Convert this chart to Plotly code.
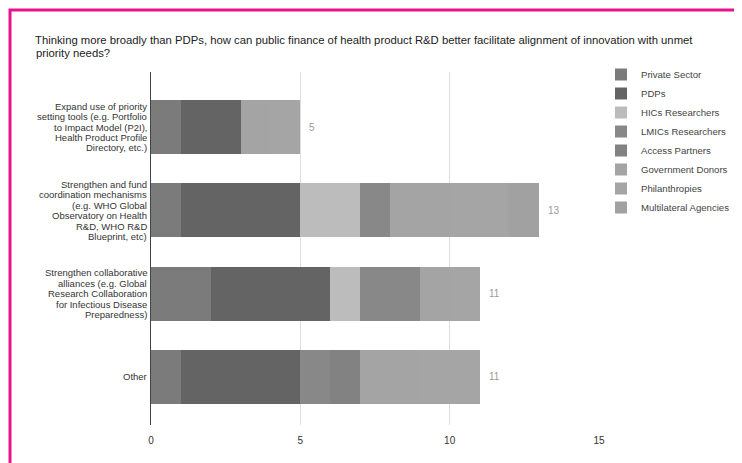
import plotly.graph_objects as go

categories = [
    "Expand use of priority<br>setting tools (e.g. Portfolio<br>to Impact Model (P2I),<br>Health Product Profile<br>Directory, etc.)",
    "Strengthen and fund<br>coordination mechanisms<br>(e.g. WHO Global<br>Observatory on Health<br>R&D, WHO R&D<br>Blueprint, etc)",
    "Strengthen collaborative<br>alliances (e.g. Global<br>Research Collaboration<br>for Infectious Disease<br>Preparedness)",
    "Other",
]
series_names = ["Private Sector", "PDPs", "HICs Researchers", "LMICs Researchers",
                "Access Partners", "Government Donors", "Philanthropies", "Multilateral Agencies"]
private_sector = [1, 1, 2, 1]
pdps = [2, 4, 4, 4]
hics_researchers = [0, 2, 1, 0]
lmics_researchers = [0, 1, 2, 1]
access_partners = [0, 0, 0, 1]
government_donors = [1, 2, 1, 2]
philanthropies = [1, 2, 1, 2]
multilateral_agencies = [0, 1, 0, 0]
series_values = [private_sector, pdps, hics_researchers, lmics_researchers,
                 access_partners, government_donors, philanthropies, multilateral_agencies]
colors = ["#7b7b7b", "#646464", "#bcbcbc", "#888888", "#828282", "#a4a4a4", "#a5a5a5", "#a1a1a1"]
x_ticks = [0, 5, 10, 15]
title_line1 = ("Thinking more broadly than PDPs, how can public finance of health product R&D better "
               "facilitate alignment of innovation with unmet")
title_line2 = "priority needs?"

totals = [sum(v[i] for v in series_values) for i in range(len(categories))]
FONT = "Liberation Sans, Arial, Helvetica, sans-serif"

# page body has an 8px margin, so the figure is drawn in 734x455
W, H = 734, 455
L, R, T, B = 143, 143, 64, 38
pw, ph = W - L - R, H - T - B


def px_x(p):
    return (p - L) / pw


def px_y(p):
    return (H - B - p) / ph


fig = go.Figure()
for name, vals, col in zip(series_names, series_values, colors):
    fig.add_trace(go.Bar(
        y=categories, x=vals, name=name, orientation="h",
        marker=dict(color=col, line=dict(width=0)), width=0.65,
    ))

# total labels
for cat, tot in zip(categories, totals):
    fig.add_annotation(x=tot, y=cat, text=str(tot), showarrow=False,
                       xanchor="left", xshift=7,
                       font=dict(family=FONT, size=10, color="#9a9a9a"))

# category labels, tight line spacing
LINE = 10.4
for cat in categories:
    lines = cat.split("<br>")
    n = len(lines)
    for k, ln in enumerate(lines):
        fig.add_annotation(x=0, y=cat, xref="x", yref="y", text=ln, showarrow=False,
                           xanchor="right", yanchor="middle", xshift=-3,
                           yshift=((n - 1) / 2 - k) * LINE,
                           borderpad=0,
                           font=dict(family=FONT, size=9.5, color="#333333"))

# title second line
fig.add_annotation(x=px_x(27), y=px_y(45), xref="paper", yref="paper", showarrow=False,
                   text=title_line2, xanchor="left", yanchor="middle", borderpad=0,
                   font=dict(family=FONT, size=11.3, color="#222222"))

fig.add_shape(type="rect", xref="paper", yref="paper",
              x0=px_x(2), x1=px_x(780), y0=px_y(2), y1=px_y(500),
              line=dict(color="#e8138a", width=3), fillcolor="rgba(0,0,0,0)", layer="above")

fig.update_layout(
    width=W, height=H,
    margin=dict(l=L, r=R, t=T, b=B, autoexpand=False),
    barmode="stack",
    plot_bgcolor="white", paper_bgcolor="white",
    font=dict(family=FONT, size=10, color="#333333"),
    title=dict(text=title_line1, x=27 / W, xanchor="left", xref="container",
               y=1 - 32 / H, yanchor="middle", yref="container", pad=dict(l=0, r=0, t=0, b=0),
               font=dict(family=FONT, size=11.3, color="#222222")),
    legend=dict(xref="container", yref="container", x=593 / W, y=1 - 52 / H,
                xanchor="left", yanchor="top",
                font=dict(family=FONT, size=9.6, color="#444444"),
                traceorder="normal", tracegroupgap=0),
    showlegend=True,
    xaxis=dict(range=[0, 15], tickvals=x_ticks, showgrid=True, gridcolor="#dddddd",
               gridwidth=1, zeroline=False, showline=False, ticks="", ticklabelstandoff=8,
               tickfont=dict(family=FONT, size=10, color="#333333")),
    yaxis=dict(autorange=False, range=[3.578, -0.663], showline=True, linecolor="#444444",
               linewidth=1, ticks="", showgrid=False, showticklabels=False),
)

fig.write_html("out.html")
